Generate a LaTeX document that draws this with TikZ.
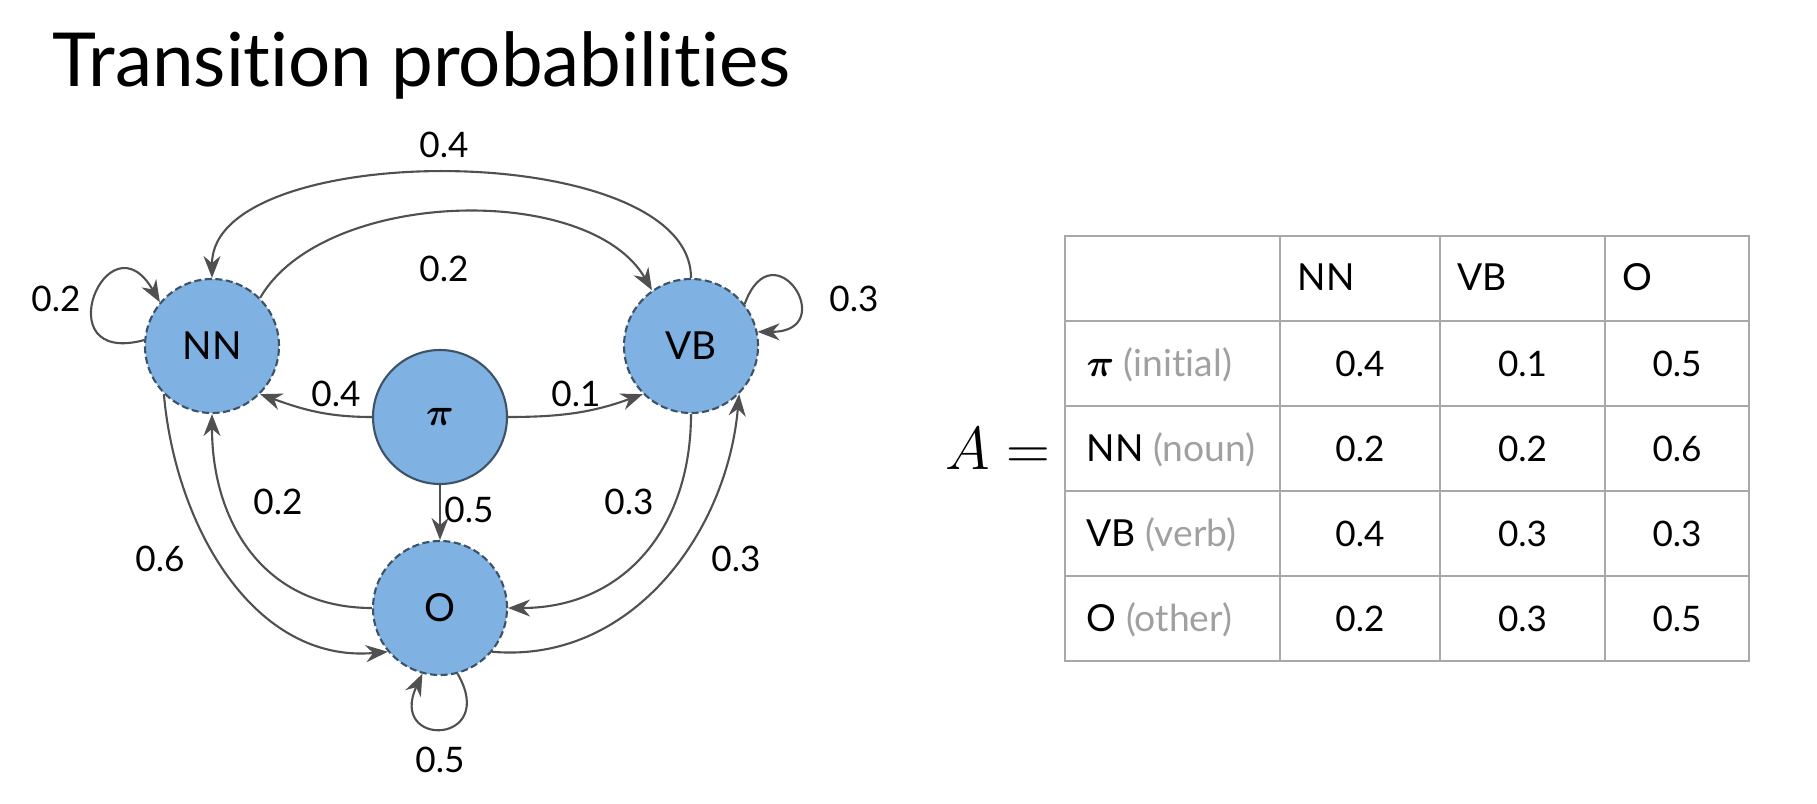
\documentclass[tikz,border=0pt]{standalone}
\usepackage{fontspec}
\setmainfont{Lato}[Ligatures=NoCommon]
\usepackage{bm}
\usetikzlibrary{arrows.meta}

\definecolor{stateblue}{HTML}{7FB1E3}
\definecolor{rim}{HTML}{3E5266}
\definecolor{wire}{HTML}{505050}
\definecolor{rulegray}{HTML}{A8A8A8}
\definecolor{textgray}{HTML}{A0A0A0}

\begin{document}
\begin{tikzpicture}[every node/.style={font=\fontsize{10}{12}\selectfont},
  state/.style={circle, fill=stateblue, draw=rim, dash pattern=on 2pt off 1pt,
    line width=0.6pt, minimum size=1.34cm, inner sep=0pt, font=\fontsize{11}{13}\selectfont},
  initstate/.style={state, solid},
  trans/.style={draw=wire, line width=0.6pt, -{Stealth[length=2.2mm,width=1.7mm]}},
  tabline/.style={draw=rulegray, line width=0.8pt},
  cell/.style={anchor=base west, inner sep=0pt, font=\fontsize{10.6}{12}\selectfont},
  val/.style={anchor=base, inner sep=0pt}]
\useasboundingbox (0,0) rectangle (18.17,-8.03);
\node[anchor=base west, inner sep=0pt, font=\fontsize{21.2}{26}\selectfont] (title) at (0.52,-0.87) {Transition probabilities};

% states
\node[state] (NN) at (2.12,-3.46) {NN};
\node[state] (VB) at (6.91,-3.46) {VB};
\node[initstate] (P) at (4.40,-4.17) {$\bm{\pi}$};
\node[state] (O) at (4.40,-6.08) {O};

% transitions
\draw[trans] (VB.north) to[out=90,in=90,looseness=0.75] (NN.north);
\draw[trans] (NN.45) to[out=60,in=120,looseness=0.82] (VB.125);
\draw[trans] (NN.175) to[out=195,in=120,looseness=6.5] (NN.140);
\draw[trans] (VB.38) to[out=70,in=0,looseness=7] (VB.12);
\draw[trans] (O.-75) to[out=-60,in=-115,looseness=6] (O.-105);
\draw[trans] (P.west) to[out=180,in=-20] (NN.-45);
\draw[trans] (P.east) to[out=0,in=200] (VB.225);
\draw[trans] (P.south) -- (O.north);
\draw[trans] (O.west) to[out=180,in=-90,looseness=1.1] (NN.south);
\draw[trans] (VB.south) to[out=-90,in=0,looseness=1.1] (O.east);
\draw[trans] (NN.-135) to[out=-85,in=185] (O.-140);
\draw[trans] (O.-40) to[out=-5,in=-95] (VB.-45);

% weights
\node (lVN) at (4.44,-1.45) {0.4};
\node (lNV) at (4.44,-2.69) {0.2};
\node (lNN) at (0.56,-2.99) {0.2};
\node (lVV) at (8.54,-2.99) {0.3};
\node (lPN) at (3.36,-3.94) {0.4};
\node (lPV) at (5.76,-3.94) {0.1};
\node (lPO) at (4.69,-5.10) {0.5};
\node (lON) at (2.78,-5.02) {0.2};
\node (lVO) at (6.29,-5.02) {0.3};
\node (lNO) at (1.60,-5.59) {0.6};
\node (lOV) at (7.36,-5.59) {0.3};
\node (lOO) at (4.40,-7.60) {0.5};

% matrix A
\node[font=\fontsize{17}{20}\selectfont] (A) at (9.98,-4.485) {$A=$};
\draw[tabline] (10.65,-2.36) rectangle (17.49,-6.61);
\draw[tabline] (12.80,-2.36) -- (12.80,-6.61);
\draw[tabline] (14.40,-2.36) -- (14.40,-6.61);
\draw[tabline] (16.05,-2.36) -- (16.05,-6.61);
\draw[tabline] (10.65,-3.21) -- (17.49,-3.21);
\draw[tabline] (10.65,-4.06) -- (17.49,-4.06);
\draw[tabline] (10.65,-4.91) -- (17.49,-4.91);
\draw[tabline] (10.65,-5.76) -- (17.49,-5.76);

\node[cell] (hNN) at (12.97,-2.91) {NN};
\node[cell] (hVB) at (14.57,-2.91) {VB};
\node[cell] (hO) at (16.22,-2.91) {O};

\node[cell] (rP) at (10.86,-3.76) {$\bm{\pi}$ \textcolor{textgray}{(initial)}};
\node[cell] (rNN) at (10.86,-4.61) {NN \textcolor{textgray}{(noun)}};
\node[cell] (rVB) at (10.86,-5.46) {VB \textcolor{textgray}{(verb)}};
\node[cell] (rO) at (10.86,-6.31) {O \textcolor{textgray}{(other)}};

\node[val] (a11) at (13.60,-3.76) {0.4};
\node[val] (a12) at (15.225,-3.76) {0.1};
\node[val] (a13) at (16.77,-3.76) {0.5};
\node[val] (a21) at (13.60,-4.61) {0.2};
\node[val] (a22) at (15.225,-4.61) {0.2};
\node[val] (a23) at (16.77,-4.61) {0.6};
\node[val] (a31) at (13.60,-5.46) {0.4};
\node[val] (a32) at (15.225,-5.46) {0.3};
\node[val] (a33) at (16.77,-5.46) {0.3};
\node[val] (a41) at (13.60,-6.31) {0.2};
\node[val] (a42) at (15.225,-6.31) {0.3};
\node[val] (a43) at (16.77,-6.31) {0.5};
\end{tikzpicture}
\end{document}
